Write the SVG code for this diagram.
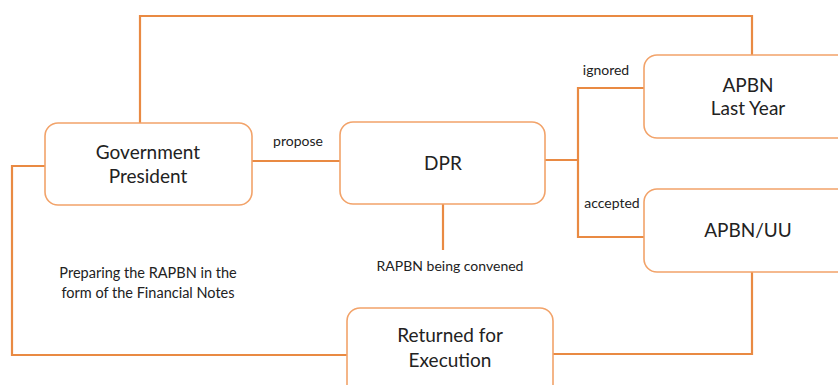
<svg xmlns="http://www.w3.org/2000/svg" width="838" height="385" viewBox="0 0 838 385">
  <style>
    .box { fill: #ffffff; stroke: #f2a36a; stroke-width: 1.6; }
    .wire { fill: none; stroke: #e98a43; stroke-width: 2.2; stroke-linejoin: miter; }
    .t { font-family: Lato, "Open Sans", "Liberation Sans", sans-serif; fill: #222222; text-anchor: middle; }
    .big { font-size: 19px; }
    .small { font-size: 14px; }
    .note { font-size: 14.5px; }
  </style>
  <rect width="838" height="385" fill="#ffffff"/>

  <g id="connectors">
    <!-- top feedback loop -->
    <polyline class="wire" points="140,124 140,16 752,16 752,55"/>
    <!-- propose -->
    <line class="wire" x1="252" y1="161" x2="340" y2="161"/>
    <!-- DPR to convened -->
    <line class="wire" x1="443" y1="204" x2="443" y2="250"/>
    <!-- DPR decision branch -->
    <polyline class="wire" points="545,160 578,160"/>
    <polyline class="wire" points="645,88 578,88 578,237 645,237"/>
    <!-- APBN/UU to execution -->
    <polyline class="wire" points="752,272 752,354 553,354"/>
    <!-- left loop -->
    <polyline class="wire" points="46,166 12,166 12,355 348,355"/>
  </g>

  <g id="government">
    <rect class="box" x="45" y="123" width="207" height="82" rx="13"/>
    <text class="t big" x="148" y="159">Government</text>
    <text class="t big" x="148" y="183">President</text>
  </g>

  <g id="dpr">
    <rect class="box" x="340" y="122" width="205" height="82" rx="13"/>
    <text class="t big" x="443" y="170">DPR</text>
  </g>

  <g id="apbn-last-year">
    <rect class="box" x="644" y="55" width="210" height="83" rx="13"/>
    <text class="t big" x="748" y="92">APBN</text>
    <text class="t big" x="748" y="115">Last Year</text>
  </g>

  <g id="apbn-uu">
    <rect class="box" x="644" y="189" width="210" height="83" rx="13"/>
    <text class="t big" x="748" y="237">APBN/UU</text>
  </g>

  <g id="returned">
    <rect class="box" x="347" y="308" width="206" height="90" rx="13"/>
    <text class="t big" x="450" y="342">Returned for</text>
    <text class="t big" x="450" y="367">Execution</text>
  </g>

  <g id="labels">
    <text class="t small" x="298" y="146">propose</text>
    <text class="t small" x="450" y="271">RAPBN being convened</text>
    <text class="t small" x="606" y="75">ignored</text>
    <text class="t small" x="612" y="208">accepted</text>
    <text class="t note" x="148" y="278">Preparing the RAPBN in the</text>
    <text class="t note" x="148" y="298">form of the Financial Notes</text>
  </g>
</svg>
